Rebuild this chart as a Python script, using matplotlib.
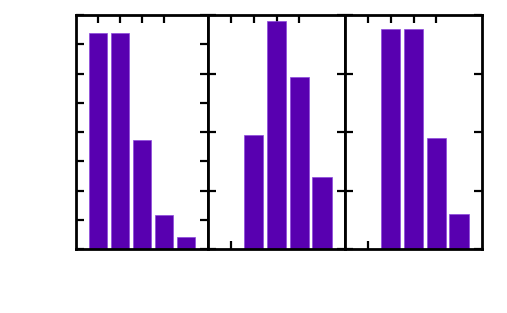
import matplotlib
matplotlib.use("Agg")
import matplotlib.pyplot as plt
import numpy as np

positions = [0, 1, 2, 3, 4]
panel1 = [7.38, 7.38, 3.73, 1.16, 0.41]
panel2 = [0.0, 3.90, 7.80, 5.89, 2.47]
panel3 = [0.0, 7.53, 7.53, 3.79, 1.20]
values = [panel1, panel2, panel3]
ytick_steps = [1, 2, 2]

fill = "#5800b0"
edge = "#8c48dc"

fig = plt.figure(figsize=(5.07, 3.13), dpi=100)
W, H = 507, 313
bounds = [(76, 208), (208, 345), (345, 482)]
top, bottom = 15, 249

for (l, r), vals, step in zip(bounds, values, ytick_steps):
    ax = fig.add_axes([l / W, (H - bottom) / H, (r - l) / W, (bottom - top) / H])
    ax.bar(positions, vals, width=0.86, color=fill, edgecolor=edge, linewidth=0.5, zorder=3)
    ax.set_xlim(-1, 5)
    ax.set_ylim(0, 8)
    ax.set_yticks(np.arange(0, 8.01, step))
    ax.set_xticks(positions)
    ax.set_xticklabels([])
    ax.set_yticklabels([])
    ax.tick_params(axis="both", direction="in", length=6, width=1.6,
                   left=True, right=True, bottom=True, top=False, color="black")
    for s in ax.spines.values():
        s.set_linewidth(2.0)
        s.set_zorder(5)
    sec = ax.secondary_xaxis("top")
    sec.set_xticks(positions[:4])
    sec.set_xticklabels([])
    sec.tick_params(direction="in", length=6, width=1.6)
    sec.spines["top"].set_visible(False)

fig.savefig("out.png", dpi=100)
